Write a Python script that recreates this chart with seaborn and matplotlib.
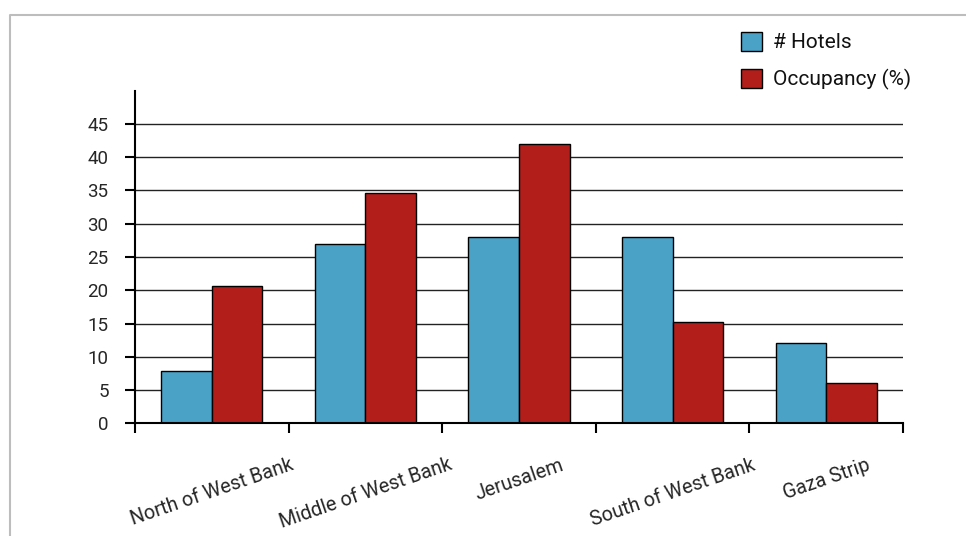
import numpy as np
import pandas as pd
import seaborn as sns
import matplotlib.pyplot as plt
from matplotlib.lines import Line2D
from matplotlib.patches import Patch

regions = ["North of West Bank", "Middle of West Bank", "Jerusalem",
           "South of West Bank", "Gaza Strip"]
hotels = [7.8, 27, 28, 28, 12]
occupancy = [20.7, 34.6, 42, 15.3, 6]
series = ["# Hotels", "Occupancy (%)"]
colors = ["#4aa2c7", "#b21f1b"]
yticks = [0, 5, 10, 15, 20, 25, 30, 35, 40, 45]

df = pd.DataFrame({
    "region": regions * 2,
    "series": [series[0]] * len(regions) + [series[1]] * len(regions),
    "value": hotels + occupancy,
})

sns.set_theme(style="white")
plt.rcParams['font.family'] = ['Roboto', 'DejaVu Sans']
plt.rcParams['text.color'] = '#111111'

W, H = 966, 536
fig = plt.figure(figsize=(W / 100, H / 100), dpi=100)
ax = fig.add_axes([135 / W, 1 - 423.3 / H, (903 - 135) / W, (423.3 - 90.7) / H])

sns.barplot(data=df, x="region", y="value", hue="series", palette=colors,
            saturation=1, width=0.66, edgecolor="black", linewidth=1,
            ax=ax, zorder=3, legend=False)

ax.set_xlim(-0.5, len(regions) - 0.5)
ax.set_ylim(0, 50)
ax.set_yticks(yticks)
ax.set_xlabel("")
ax.set_ylabel("")
ax.yaxis.grid(True, color="#222222", linewidth=1.0, zorder=1)
ax.xaxis.grid(False)
ax.set_axisbelow(True)

for s in ["top", "right"]:
    ax.spines[s].set_visible(False)
for s in ["left", "bottom"]:
    ax.spines[s].set_color("black")
    ax.spines[s].set_linewidth(1.5)
    ax.spines[s].set_zorder(4)

ax.set_xticks(np.arange(-0.5, len(regions), 1.0), labels=[""] * (len(regions) + 1))
ax.set_xticks(np.arange(len(regions)), minor=True)
ax.set_xticklabels(regions, minor=True, rotation=19, fontsize=14.2)
ax.tick_params(axis="x", which="major", direction="out", length=7, width=1.5,
               color="black", bottom=True)
ax.tick_params(axis="x", which="minor", length=0, pad=23, bottom=True)
ax.tick_params(axis="y", direction="out", length=7, width=1.5, color="black",
               left=True, pad=12, labelsize=13.5)

handles = [Patch(facecolor=c, edgecolor="black", linewidth=1) for c in colors]
ax.legend(handles, series, loc="upper left",
          bbox_to_anchor=(740.7 / W, 1 - 31.7 / H), bbox_transform=fig.transFigure,
          frameon=False, borderpad=0, borderaxespad=0, fontsize=15,
          handlelength=1.04, handleheight=1.04, handletextpad=0.5,
          labelspacing=0.78)

fig.add_artist(Line2D([10 / W, 10 / W, 1], [0, 1 - 15 / H, 1 - 15 / H],
                      transform=fig.transFigure, color="#bdbdbd", linewidth=1.5))

fig.savefig("out.png", dpi=100)
